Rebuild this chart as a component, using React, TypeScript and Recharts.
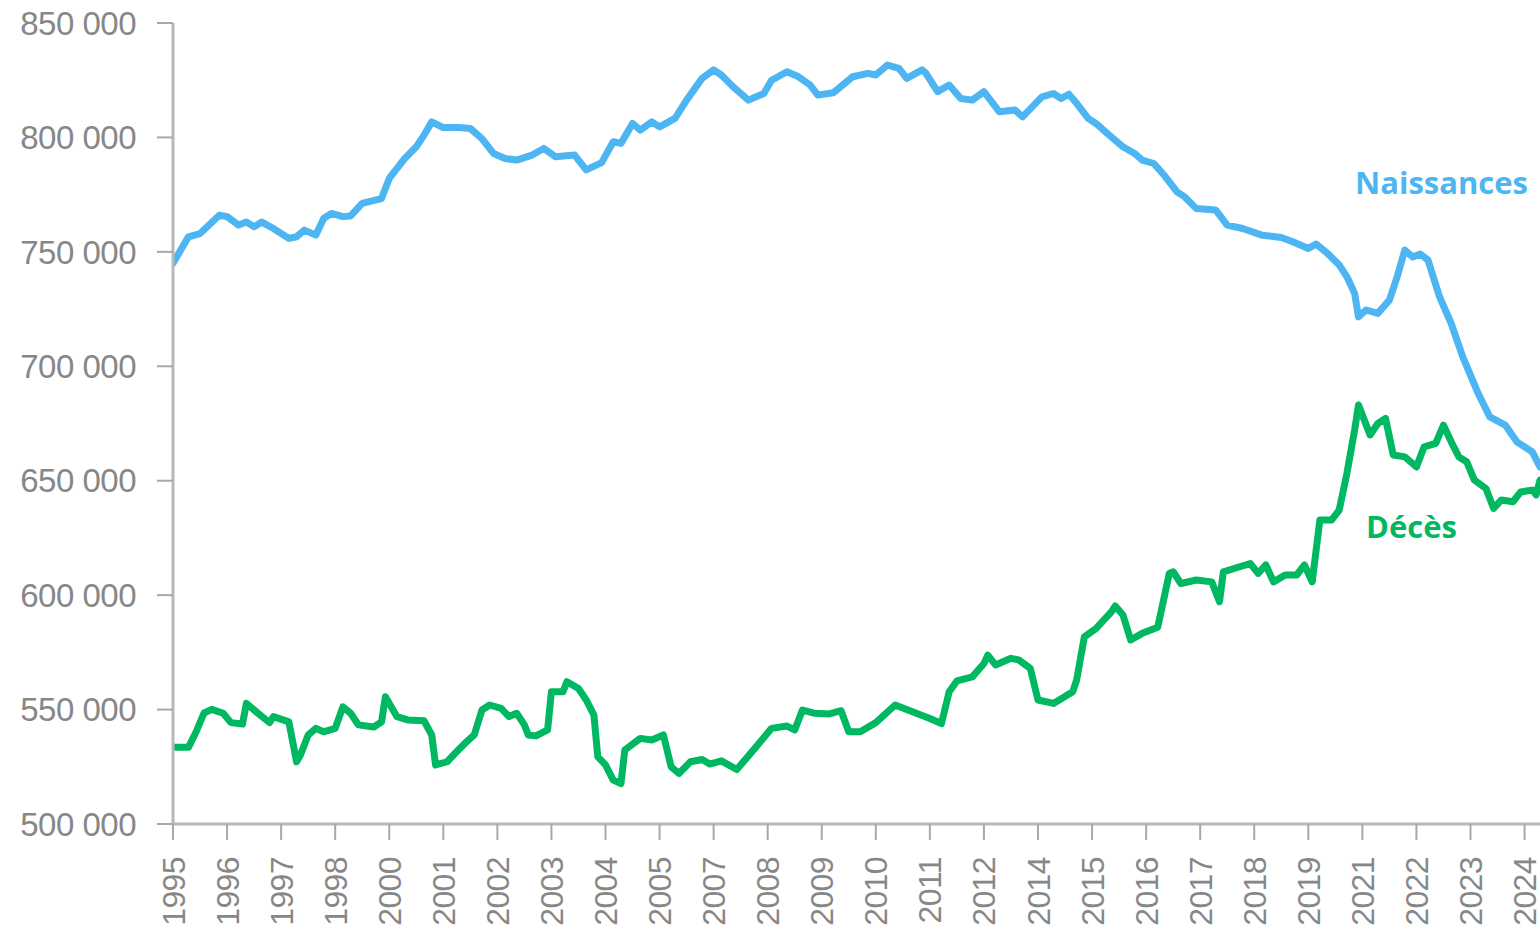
import React from 'react';
import { LineChart, Line, XAxis, YAxis, ReferenceDot } from 'recharts';

// x = months elapsed since May 1995 (monthly 12-month rolling totals)
const naissancesMonths = [0, 4, 7, 12, 14, 17, 19, 21, 23, 26, 30, 32, 34, 37, 39, 41, 44, 46, 49, 54, 56, 60, 63, 65, 67, 70, 74, 77, 80, 83, 86, 89, 93, 96, 99, 104, 107, 111, 114, 116, 119, 121, 124, 126, 130, 133, 137, 140, 142, 145, 149, 153, 155, 159, 162, 165, 167, 171, 176, 180, 182, 185, 188, 190, 194, 195, 198, 201, 204, 207, 210, 214, 218, 220, 225, 228, 230, 232, 234, 237, 239, 242, 246, 249, 251, 254, 257, 260, 262, 265, 270, 273, 277, 282, 287, 290, 294, 296, 299, 302, 304, 306, 307, 309, 312, 315, 317, 319, 321, 323, 325, 328, 331, 334, 338, 341, 345, 348, 352, 354];
const naissancesValues = [745000, 756600, 758000, 766000, 765400, 761700, 763000, 761000, 763000, 760200, 755900, 756600, 759500, 757300, 764600, 766800, 765400, 765700, 771200, 773300, 782100, 790800, 795900, 801000, 806800, 804300, 804300, 803900, 799500, 793000, 790800, 790100, 792300, 795200, 791600, 792300, 785800, 789000, 798100, 797400, 806100, 803200, 806800, 804600, 808300, 816300, 825800, 829500, 827300, 822200, 816300, 819200, 825000, 828700, 826500, 822900, 818500, 819500, 826500, 828000, 827300, 831600, 830200, 825800, 829500, 828000, 820000, 822900, 817000, 816300, 820000, 811200, 812000, 809000, 817700, 819200, 817000, 818900, 814900, 808300, 806100, 801700, 795900, 793000, 790100, 788600, 782800, 776200, 774000, 768900, 768300, 761700, 760200, 757300, 756300, 754400, 751500, 753400, 749300, 744300, 739100, 731800, 721600, 724600, 723100, 728900, 739100, 750800, 747800, 749000, 746400, 730300, 718700, 704100, 688100, 677900, 674300, 667000, 662600, 656000];

const decesMonths = [0, 4, 6, 8, 10, 13, 15, 18, 19, 22, 25, 26, 30, 32, 33, 35, 37, 39, 42, 44, 46, 48, 52, 54, 55, 58, 61, 65, 67, 68, 71, 73, 76, 78, 80, 82, 85, 87, 89, 91, 92, 94, 97, 98, 101, 102, 105, 107, 109, 110, 112, 114, 116, 117, 121, 124, 127, 129, 131, 134, 137, 139, 142, 146, 151, 155, 159, 161, 163, 166, 170, 173, 175, 178, 182, 187, 193, 196, 199, 201, 203, 207, 210, 211, 213, 217, 219, 222, 224, 228, 233, 234, 236, 239, 243, 244, 246, 248, 251, 255, 258, 259, 261, 265, 269, 271, 272, 276, 279, 281, 283, 285, 288, 291, 293, 295, 297, 300, 302, 304, 306, 307, 310, 312, 314, 316, 319, 322, 324, 327, 329, 331, 333, 335, 337, 340, 342, 344, 347, 349, 352, 353, 354];
const decesValues = [533500, 533500, 540300, 548400, 550100, 548400, 544300, 543700, 552700, 548400, 544300, 546900, 544600, 527200, 530100, 538900, 541800, 540300, 541800, 551200, 548400, 543300, 542400, 544600, 555600, 546900, 545400, 545100, 538900, 525800, 527200, 530800, 535900, 538900, 549800, 552000, 550500, 546900, 548400, 543300, 538900, 538500, 541100, 557800, 557800, 562200, 559200, 554200, 547600, 529400, 525800, 519200, 517700, 532300, 537400, 536700, 538900, 525000, 522100, 527200, 528200, 526200, 527600, 523800, 533700, 541800, 542800, 541100, 549800, 548400, 548100, 549500, 540300, 540300, 544300, 552000, 548100, 546100, 543900, 557800, 562500, 564300, 570100, 573800, 569500, 572400, 571700, 568000, 554200, 552700, 557800, 562900, 581800, 585400, 592700, 595300, 591300, 580400, 583300, 586000, 609500, 610200, 605100, 606600, 605800, 597100, 610200, 612300, 613800, 609500, 613200, 605800, 608800, 608800, 613200, 605800, 632800, 632800, 637200, 653200, 672200, 683100, 670000, 675000, 677200, 661200, 660400, 656000, 664800, 666300, 674300, 667000, 660400, 658300, 650300, 646600, 637900, 641600, 640800, 645100, 645900, 643800, 650300];

const yearLabels = ['1995', '1996', '1997', '1998', '2000', '2001', '2002', '2003', '2004', '2005', '2007', '2008', '2009', '2010', '2011', '2012', '2014', '2015', '2016', '2017', '2018', '2019', '2021', '2022', '2023', '2024'];
const tickStepMonths = 14;
const yTicks = [500000, 550000, 600000, 650000, 700000, 750000, 800000, 850000];

const naissancesData = naissancesMonths.map((m, i) => ({ m, v: naissancesValues[i] }));
const decesData = decesMonths.map((m, i) => ({ m, v: decesValues[i] }));
const xTicks = yearLabels.map((_, i) => i * tickStepMonths);

const BLUE = '#4DB5F1';
const GREEN = '#00B862';
const LABEL_GRAY = '#878787';
const FONT = "'Liberation Sans', Arial, sans-serif";

const XTick = (props: any) => {
  const { x, y, payload } = props;
  const label = yearLabels[Math.round(payload.value / tickStepMonths)];
  return (
    <text
      x={x}
      y={y}
      transform={`rotate(-90 ${x} ${y})`}
      textAnchor="end"
      dy="0.36em"
      fill={LABEL_GRAY}
      fontSize={32}
      fontFamily={FONT}
      letterSpacing={-0.6}
    >
      {label}
    </text>
  );
};

const fmtY = (v: number) => `${Math.round(v / 1000)} 000`;

export default function App() {
  return (
    <div style={{ position: 'absolute', left: 0, top: 0, background: '#fff' }}>
      <LineChart width={1540} height={933} margin={{ top: 23, right: 0, bottom: 0, left: 0 }}>
        <XAxis
          dataKey="m"
          type="number"
          domain={[0, 354]}
          ticks={xTicks}
          interval={0}
          height={109}
          tickSize={16}
          tickMargin={17}
          tick={<XTick />}
          axisLine={{ stroke: '#b8b8b8', strokeWidth: 3 }}
          tickLine={{ stroke: '#a8a8a8', strokeWidth: 2 }}
          allowDataOverflow
        />
        <YAxis
          type="number"
          domain={[500000, 850000]}
          ticks={yTicks}
          interval={0}
          width={173}
          tickSize={16}
          tickMargin={21}
          tickFormatter={fmtY}
          tick={{ fill: LABEL_GRAY, fontSize: 33, fontFamily: FONT, letterSpacing: -0.5 }}
          axisLine={{ stroke: '#b8b8b8', strokeWidth: 3 }}
          tickLine={{ stroke: '#a8a8a8', strokeWidth: 2 }}
          allowDataOverflow
        />
        <Line
          data={naissancesData}
          dataKey="v"
          type="linear"
          stroke={BLUE}
          strokeWidth={7}
          strokeLinejoin="round"
          strokeLinecap="round"
          dot={false}
          activeDot={false}
          isAnimationActive={false}
        />
        <Line
          data={decesData}
          dataKey="v"
          type="linear"
          stroke={GREEN}
          strokeWidth={7}
          strokeLinejoin="round"
          strokeLinecap="round"
          dot={false}
          activeDot={false}
          isAnimationActive={false}
        />
        <ReferenceDot
          x={328.5}
          y={780000}
          r={0}
          fill="none"
          stroke="none"
          label={{ value: 'Naissances', position: 'center', fill: BLUE, fontSize: 31, fontWeight: 700, fontFamily: "'Open Sans', sans-serif" }}
        />
        <ReferenceDot
          x={320.7}
          y={629800}
          r={0}
          fill="none"
          stroke="none"
          label={{ value: 'Décès', position: 'center', fill: GREEN, fontSize: 31, fontWeight: 700, fontFamily: "'Open Sans', sans-serif" }}
        />
      </LineChart>
    </div>
  );
}
